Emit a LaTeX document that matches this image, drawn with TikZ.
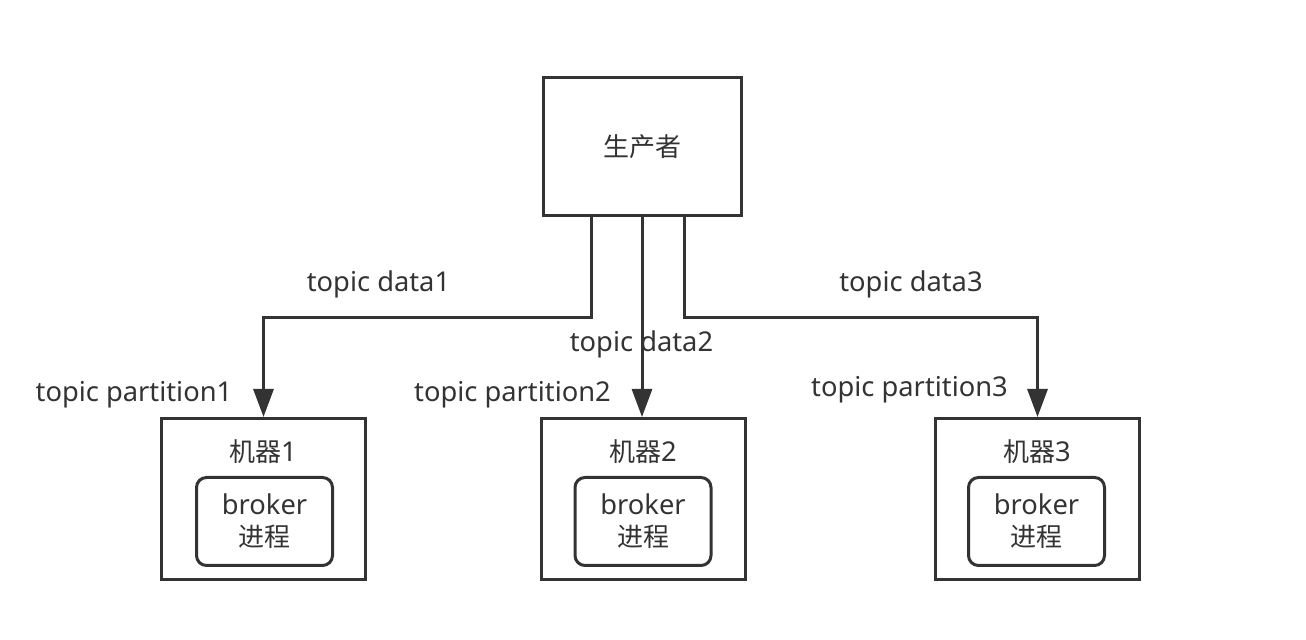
\documentclass[tikz,border=0pt]{standalone}
\usepackage{fontspec}
\setmainfont{Noto Sans}[Scale=1.05]
\newfontfamily\cjk{Noto Sans CJK SC}
\usetikzlibrary{arrows.meta}
\definecolor{ink}{HTML}{333333}

\begin{document}
\begin{tikzpicture}[x=0.5pt, y=-0.5pt,
	box/.style={draw=ink, line width=1.5pt, rectangle, inner sep=0pt},
	machine/.style={box, minimum width=102pt, minimum height=80.5pt},
	proc/.style={box, rounded corners=5pt, minimum width=68pt, minimum height=44pt, align=center},
	link/.style={-{Triangle[length=14pt, width=10pt]}, draw=ink, line width=1.5pt},
	lbl/.style={anchor=base, inner sep=0pt},
	every node/.style={font=\fontsize{13}{16}\selectfont, text=ink}
	]
	\useasboundingbox (0,0) rectangle (1306,640);
	
	% Producer
	\node[box, minimum width=99pt, minimum height=69pt] (prod) at (642,147) {\cjk 生产者};
	
	% Machines
	\node[machine] (m1) at (263.5,499) {};
	\node[machine] (m2) at (643,499) {};
	\node[machine] (m3) at (1037.5,499) {};
	
	% Machine titles
	\node[lbl] (t1) at (263,462) {{\cjk 机器}1};
	\node[lbl] (t2) at (643,462) {{\cjk 机器}2};
	\node[lbl] (t3) at (1037,462) {{\cjk 机器}3};
	
	% Broker processes
	\node[proc] (b1) at (264.5,521.5) {broker\\{\cjk 进程}};
	\node[proc] (b2) at (643,521.5) {broker\\{\cjk 进程}};
	\node[proc] (b3) at (1036.5,521.5) {broker\\{\cjk 进程}};
	
	% Links
	\draw[link] ([xshift=-25.5pt]prod.south) -- ++(0,100) -| (m1.north);
	\draw[link] (prod.south) -- (prod.south |- m2.north);
	\draw[link] ([xshift=21pt]prod.south) -- ++(0,100) -| (m3.north);
	
	% Link labels
	\node[lbl] (d1) at (378.5,292) {topic data1};
	\node[lbl] (d2) at (641.5,352) {topic data2};
	\node[lbl] (d3) at (911,292) {topic data3};
	\node[lbl] (p1) at (134,402) {topic partition1};
	\node[lbl] (p2) at (512.5,402) {topic partition2};
	\node[lbl] (p3) at (909.5,397) {topic partition3};
	
\end{tikzpicture}
\end{document}
